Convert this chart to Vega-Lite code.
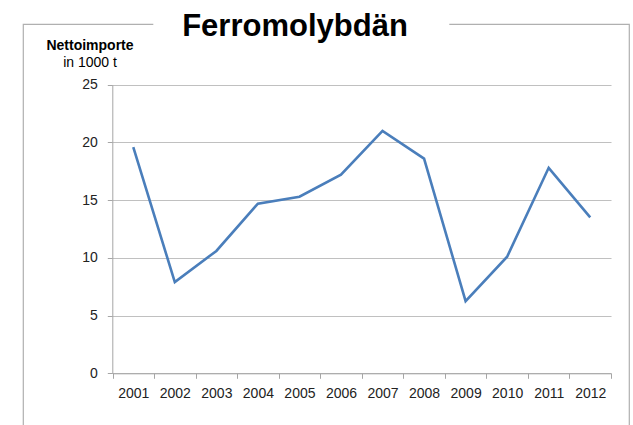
{
  "$schema": "https://vega.github.io/schema/vega-lite/v6.json",
  "width": 606,
  "height": 401,
  "autosize": {"type": "none"},
  "padding": {"left": 23, "top": 24, "right": 4, "bottom": 0},
  "background": "white",
  "config": {
    "font": "Liberation Sans",
    "view": {"stroke": "#b0b0b0", "strokeWidth": 1.2, "strokeDash": [130, 296, 581, 606, 401]}
  },
  "title": {
    "text": "Ferromolybdän",
    "font": "Liberation Sans",
    "fontSize": 31,
    "fontWeight": "bold",
    "color": "#000000",
    "anchor": "middle",
    "frame": "group",
    "baseline": "alphabetic",
    "offset": 0,
    "dx": -31,
    "dy": 43
  },
  "data": {
    "values": [
      {"Jahr": "2001", "Wert": 19.6},
      {"Jahr": "2002", "Wert": 7.9},
      {"Jahr": "2003", "Wert": 10.6},
      {"Jahr": "2004", "Wert": 14.7},
      {"Jahr": "2005", "Wert": 15.3},
      {"Jahr": "2006", "Wert": 17.2},
      {"Jahr": "2007", "Wert": 21.0},
      {"Jahr": "2008", "Wert": 18.6},
      {"Jahr": "2009", "Wert": 6.25},
      {"Jahr": "2010", "Wert": 10.1},
      {"Jahr": "2011", "Wert": 17.8},
      {"Jahr": "2012", "Wert": 13.5}
    ]
  },
  "encoding": {
    "x": {
      "field": "Jahr",
      "type": "ordinal",
      "bandPosition": 0.5,
      "scale": {"type": "band", "range": [89.5, 588], "paddingInner": 0, "paddingOuter": 0},
      "axis": {
        "title": null,
        "orient": "bottom",
        "offset": -51.7,
        "tickBand": "extent",
        "labelAngle": 0,
        "labelFont": "Liberation Sans",
        "labelFontSize": 14,
        "labelColor": "#222222",
        "labelPadding": 8,
        "tickColor": "#a6a6a6",
        "domainColor": "#a6a6a6",
        "tickSize": 5,
        "grid": false
      }
    }
  },
  "layer": [
    {
      "mark": {"type": "line", "color": "#4a7ebb", "strokeWidth": 2.6},
      "encoding": {
        "y": {
          "field": "Wert",
          "type": "quantitative",
          "scale": {"domain": [0, 25], "range": [349.3, 60.7], "nice": false},
          "axis": {
            "orient": "left",
            "offset": -89.3,
            "values": [0, 5, 10, 15, 20, 25],
            "grid": true,
            "gridColor": "#c0c0c0",
            "gridWidth": 1.2,
            "domainColor": "#a6a6a6",
            "tickColor": "#a6a6a6",
            "tickSize": 5,
            "labelPadding": 10,
            "labelFont": "Liberation Sans",
            "labelFontSize": 14,
            "labelColor": "#222222",
            "title": "Nettoimporte",
            "titleFont": "Liberation Sans",
            "titleFontSize": 14,
            "titleFontWeight": "bold",
            "titleColor": "#000000",
            "titleAngle": 0,
            "titleAlign": "center",
            "titleBaseline": "alphabetic",
            "titleX": -22.8,
            "titleY": 25
          }
        }
      }
    },
    {
      "mark": {"type": "line", "strokeOpacity": 0},
      "encoding": {
        "y": {
          "field": "Wert",
          "type": "quantitative",
          "scale": {"domain": [0, 25], "range": [349.3, 60.7], "nice": false},
          "axis": {
            "orient": "left",
            "offset": -89.3,
            "labels": false,
            "ticks": false,
            "domain": false,
            "grid": false,
            "title": "in 1000 t",
            "titleFont": "Liberation Sans",
            "titleFontSize": 14,
            "titleFontWeight": "normal",
            "titleColor": "#000000",
            "titleAngle": 0,
            "titleAlign": "center",
            "titleBaseline": "alphabetic",
            "titleX": -22.8,
            "titleY": 42.7
          }
        }
      }
    }
  ],
  "resolve": {"axis": {"y": "independent"}}
}
